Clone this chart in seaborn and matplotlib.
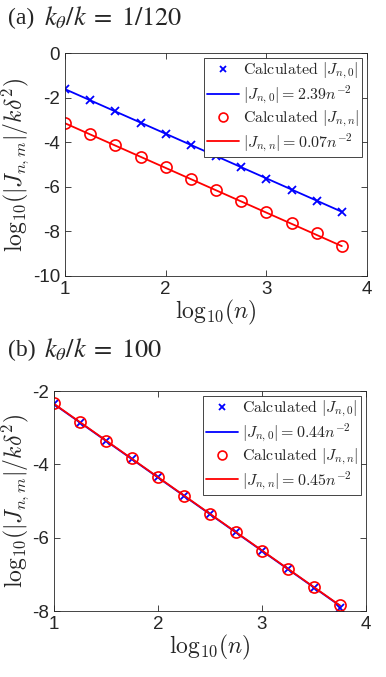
import numpy as np
import pandas as pd
import matplotlib
matplotlib.use("Agg")
import matplotlib.pyplot as plt
import seaborn as sns

sns.set_style("ticks")
plt.rcParams['font.family'] = ['Liberation Sans', 'DejaVu Sans']
plt.rcParams['mathtext.fontset'] = 'cm'

# log10(n) positions
log_n = [1.0, 1.25, 1.5, 1.75, 2.0, 2.25, 2.5, 2.75, 3.0, 3.25, 3.5, 3.75]

# panel (a): k_theta/k = 1/120
a_calc_n0 = [-1.62, -2.11, -2.62, -3.13, -3.62, -4.13, -4.63, -5.13, -5.63, -6.13, -6.64, -7.13]
a_calc_nn = [-3.14, -3.63, -4.14, -4.65, -5.13, -5.64, -6.15, -6.62, -7.13, -7.61, -8.06, -8.64]
a_fit_x = [1.0, 3.75]
a_fit_n0 = [-1.62, -7.12]
a_fit_nn = [-3.15, -8.66]
a_labels = [r"$|J_{n,0}| = 2.39n^{-2}$", r"$|J_{n,n}| = 0.07n^{-2}$"]

# panel (b): k_theta/k = 100
b_calc_n0 = [-2.35, -2.86, -3.36, -3.85, -4.35, -4.86, -5.36, -5.85, -6.36, -6.86, -7.36, -7.93]
b_calc_nn = [-2.34, -2.85, -3.35, -3.84, -4.34, -4.85, -5.35, -5.84, -6.35, -6.85, -7.35, -7.84]
b_fit_x = [1.0, 3.75]
b_fit_n0 = [-2.36, -7.86]
b_fit_nn = [-2.35, -7.85]
b_labels = [r"$|J_{n,0}| = 0.44n^{-2}$", r"$|J_{n,n}| = 0.45n^{-2}$"]

W, H = 386, 677
fig = plt.figure(figsize=(W / 100, H / 100), dpi=100)

def panel(rect, calc0, calcn, fx, f0, fn, labels, ylim, yticks):
    ax = fig.add_axes(rect)
    sns.lineplot(x=log_n, y=calc0, ax=ax, color='blue', marker='x', linestyle='',
                 ms=6, mew=1.3, mec='blue', label=r"$\mathrm{Calculated}\ |J_{n,0}|$")
    sns.lineplot(x=fx, y=f0, ax=ax, color='blue', lw=1.3, label=labels[0])
    sns.lineplot(x=log_n, y=calcn, ax=ax, color='red', marker='o', linestyle='',
                 ms=8, mfc='none', mec='red', mew=1.2, label=r"$\mathrm{Calculated}\ |J_{n,n}|$")
    sns.lineplot(x=fx, y=fn, ax=ax, color='red', lw=1.3, label=labels[1])
    ax.set_xlim(1, 4)
    ax.set_ylim(*ylim)
    ax.set_xticks([1, 2, 3, 4])
    ax.set_yticks(yticks)
    ax.set_yticklabels([str(int(t)) for t in yticks])
    ax.tick_params(direction='in', top=True, right=True, labelsize=13.5,
                   colors='#262626', length=4, width=0.6)
    for s in ax.spines.values():
        s.set_color('#262626')
        s.set_linewidth(0.6)
    ax.set_xlabel(r"$\mathrm{log}_{10}(n)$", fontsize=17, labelpad=0)
    ax.set_ylabel(r"$\mathrm{log}_{10}(|J_{n,m}|/k\delta^2)$", fontsize=17, labelpad=1)
    leg = ax.legend(loc='upper right', fontsize=11.5, handlelength=2.0, handletextpad=0.2,
                    borderpad=0.2, labelspacing=0.15, borderaxespad=0.3, markerscale=0.8,
                    fancybox=False, framealpha=1, edgecolor='#262626')
    leg.get_frame().set_linewidth(0.6)
    return ax

panel([65 / W, 1 - 276 / H, 302 / W, 223 / H], a_calc_n0, a_calc_nn,
      a_fit_x, a_fit_n0, a_fit_nn, a_labels, (-10, 0), [-10, -8, -6, -4, -2, 0])
panel([54 / W, 1 - 611 / H, 312 / W, 220 / H], b_calc_n0, b_calc_nn,
      b_fit_x, b_fit_n0, b_fit_nn, b_labels, (-8, -2), [-8, -6, -4, -2])

for ypx, tag, expr in [(18, "(a)", r"$k_\theta/k\;=\;1/120$"),
                       (350, "(b)", r"$k_\theta/k\;=\;100$")]:
    fig.text(8 / W, 1 - ypx / H, tag, fontsize=17, family='Liberation Serif', va='center')
    fig.text(44 / W, 1 - ypx / H, expr, fontsize=19, math_fontfamily='stix', va='center')

fig.savefig("out.png", dpi=100, facecolor='white')
